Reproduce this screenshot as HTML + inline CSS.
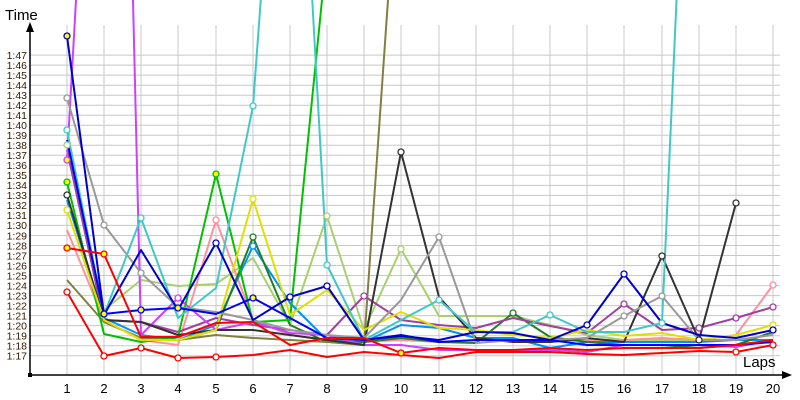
<!DOCTYPE html>
<html><head><meta charset="utf-8"><style>
html,body{margin:0;padding:0;background:#fff;width:800px;height:400px;overflow:hidden}
svg{display:block}
.yl{font:10.5px "Liberation Sans",sans-serif;fill:#301800;text-anchor:end}
.xl{font:13px "Liberation Sans",sans-serif;fill:#000;text-anchor:middle}
polyline{fill:none;stroke-width:2;stroke-linejoin:round}
</style></head><body>
<svg width="800" height="400" viewBox="0 0 800 400">
<g stroke="#c8c8c8" stroke-width="1">
<path d="M30 355.7H780M30 345.7H780M30 335.7H780M30 325.6H780M30 315.6H780M30 305.6H780M30 295.6H780M30 285.6H780M30 275.5H780M30 265.5H780M30 255.5H780M30 245.5H780M30 235.5H780M30 225.4H780M30 215.4H780M30 205.4H780M30 195.4H780M30 185.4H780M30 175.3H780M30 165.3H780M30 155.3H780M30 145.3H780M30 135.3H780M30 125.2H780M30 115.2H780M30 105.2H780M30 95.2H780M30 85.2H780M30 75.1H780M30 65.1H780M30 55.1H780"/>
<path d="M67 25V375M104 25V375M141 25V375M178 25V375M216 25V375M253 25V375M290 25V375M327 25V375M364 25V375M401 25V375M439 25V375M476 25V375M513 25V375M550 25V375M587 25V375M624 25V375M662 25V375M699 25V375M736 25V375M773 25V375"/>
</g>
<g class="yl">
<text x="27" y="359.5">1:17</text><text x="27" y="349.5">1:18</text><text x="27" y="339.5">1:19</text><text x="27" y="329.4">1:20</text><text x="27" y="319.4">1:21</text><text x="27" y="309.4">1:22</text><text x="27" y="299.4">1:23</text><text x="27" y="289.4">1:24</text><text x="27" y="279.3">1:25</text><text x="27" y="269.3">1:26</text><text x="27" y="259.3">1:27</text><text x="27" y="249.3">1:28</text><text x="27" y="239.3">1:29</text><text x="27" y="229.2">1:30</text><text x="27" y="219.2">1:31</text><text x="27" y="209.2">1:32</text><text x="27" y="199.2">1:33</text><text x="27" y="189.2">1:34</text><text x="27" y="179.1">1:35</text><text x="27" y="169.1">1:36</text><text x="27" y="159.1">1:37</text><text x="27" y="149.1">1:38</text><text x="27" y="139.1">1:39</text><text x="27" y="129.0">1:40</text><text x="27" y="119.0">1:41</text><text x="27" y="109.0">1:42</text><text x="27" y="99.0">1:43</text><text x="27" y="89.0">1:44</text><text x="27" y="78.9">1:45</text><text x="27" y="68.9">1:46</text><text x="27" y="58.9">1:47</text>
</g>
<g class="xl">
<text x="67" y="393">1</text><text x="104" y="393">2</text><text x="141" y="393">3</text><text x="178" y="393">4</text><text x="216" y="393">5</text><text x="253" y="393">6</text><text x="290" y="393">7</text><text x="327" y="393">8</text><text x="364" y="393">9</text><text x="401" y="393">10</text><text x="439" y="393">11</text><text x="476" y="393">12</text><text x="513" y="393">13</text><text x="550" y="393">14</text><text x="587" y="393">15</text><text x="624" y="393">16</text><text x="662" y="393">17</text><text x="699" y="393">18</text><text x="736" y="393">19</text><text x="773" y="393">20</text>
</g>
<text x="5" y="20" style="font:15px 'Liberation Sans',sans-serif;fill:#000">Time</text>
<text x="743" y="367" style="font:15px 'Liberation Sans',sans-serif;fill:#000">Laps</text>

<g>
<polyline stroke="#a8d070" points="67,145 104,310 141,280 178,286 216,284 253,258 290,325 327,216 364,330 401,249 439,316 476,316 513,316 550,325 587,335 624,340 662,340 699,340 736,340 773,340"/>
<polyline stroke="#ff90a0" points="67,230 104,320 141,340 178,345 216,220 253,320 290,335 327,340 364,342 401,340 439,342 476,340 513,340 550,342 587,340 624,340 662,338 699,340 736,335 773,285"/>
<polyline stroke="#0090ff" points="67,200 104,318 141,335 178,340 216,325 253,246 290,303 327,340 364,342 401,325 439,328 476,338 513,338 550,348 587,342 624,342 662,342 699,342 736,340 773,340"/>
<polyline stroke="#208020" points="67,145 104,322 141,338 178,340 216,330 253,237 290,325 327,342 364,342 401,338 439,342 476,343 513,313 550,337 587,342 624,345 662,345 699,348 736,345 773,332"/>
<polyline stroke="#a040a0" points="67,150 104,320 141,322 178,332 216,318 253,325 290,330 327,335 364,296 401,320 439,325 476,328 513,318 550,326 587,333 624,304 662,330 699,328 736,318 773,307"/>
<polyline stroke="#cc40ff" points="67,160 76,0"/>
<polyline stroke="#cc40ff" points="133,0 141,335 178,298 216,330 253,322 290,333 327,335 364,345 401,345 439,350 476,350 513,350 550,350 587,352 624,345 662,345 699,345 736,347 773,340"/>
<polyline stroke="#808040" points="67,280 104,322 141,338 178,340 216,335 253,338 290,340 327,342 364,345 401,-187"/>
<polyline stroke="#00c000" points="67,182 104,334 141,342 178,337 216,174 253,322 290,320 327,-50"/>
<polyline stroke="#333333" points="67,195 104,320 141,322 178,335 216,330 253,330 290,335 327,340 364,345 401,152 439,297 476,338 513,342 550,342 587,338 624,342 662,256 699,340 736,203"/>
<polyline stroke="#e0e000" points="67,210 104,320 141,340 178,340 216,330 253,199 290,315 327,290 364,330 401,312 439,328 476,330 513,335 550,338 587,330 624,336 662,333 699,340 736,335 773,325"/>
<polyline stroke="#999999" points="67,98 104,225 141,273 178,307 216,312 253,320 290,330 327,335 364,338 401,300 439,237 476,343 513,340 550,340 587,338 624,316 662,296 699,340 736,340 773,335"/>
<polyline stroke="#40c8c8" points="67,130 104,315 141,218 178,318 216,288 253,106 290,-400 327,265 364,340 401,320 439,300 476,332 513,332 550,315 587,332 624,332 662,323 699,-500"/>
<polyline stroke="#0000ff" points="67,140 104,314 141,310 178,308 216,314 253,298 290,318 327,338 364,340 401,335 439,342 476,340 513,340 550,340 587,345 624,345 662,345 699,345 736,345 773,342"/>
<polyline stroke="#0000cc" points="67,36 104,315 141,250 178,310 216,243 253,320 290,297 327,286 364,340 401,336 439,340 476,332 513,333 550,340 587,325 624,274 662,323 699,335 736,338 773,330"/>
<polyline stroke="#ff0000" points="67,248 104,254 141,337 178,337 216,323 253,322 290,345 327,338 364,338 401,353 439,348 476,350 513,350 550,348 587,350 624,348 662,348 699,348 736,345 773,340"/>
<polyline stroke="#ff0000" points="67,292 104,356 141,348 178,358 216,357 253,355 290,350 327,357 364,352 401,355 439,358 476,352 513,352 550,352 587,354 624,355 662,353 699,351 736,352 773,345"/>
</g>
<g stroke-width="1.3">
<circle cx="67" cy="36" r="3" fill="#ff0" stroke="#0000cc"/>
<circle cx="67" cy="98" r="3" fill="#fff" stroke="#999"/>
<circle cx="67" cy="130" r="3" fill="#fff" stroke="#40c8c8"/>
<circle cx="67" cy="145" r="3" fill="#fff" stroke="#a8d070"/>
<circle cx="67" cy="160" r="3" fill="#ff0" stroke="#cc40ff"/>
<circle cx="67" cy="182" r="3" fill="#ff0" stroke="#00c000"/>
<circle cx="67" cy="195" r="3" fill="#fff" stroke="#333"/>
<circle cx="67" cy="210" r="3" fill="#fff" stroke="#e0e000"/>
<circle cx="67" cy="248" r="3" fill="#ff0" stroke="#f00"/>
<circle cx="67" cy="292" r="3" fill="#fff" stroke="#f00"/>
<circle cx="104" cy="225" r="3" fill="#fff" stroke="#999"/>
<circle cx="104" cy="254" r="3" fill="#ff0" stroke="#f00"/>
<circle cx="104" cy="356" r="3" fill="#fff" stroke="#f00"/>
<circle cx="104" cy="314" r="3" fill="#ff0" stroke="#00f"/>
<circle cx="141" cy="218" r="3" fill="#fff" stroke="#40c8c8"/>
<circle cx="141" cy="273" r="3" fill="#fff" stroke="#999"/>
<circle cx="141" cy="310" r="3" fill="#ff0" stroke="#00f"/>
<circle cx="141" cy="348" r="3" fill="#fff" stroke="#f00"/>
<circle cx="178" cy="308" r="3" fill="#ff0" stroke="#00f"/>
<circle cx="178" cy="298" r="3" fill="#fff" stroke="#cc40ff"/>
<circle cx="178" cy="358" r="3" fill="#fff" stroke="#f00"/>
<circle cx="216" cy="174" r="3" fill="#ff0" stroke="#00c000"/>
<circle cx="216" cy="220" r="3" fill="#fff" stroke="#ff90a0"/>
<circle cx="216" cy="243" r="3" fill="#fff" stroke="#0000cc"/>
<circle cx="216" cy="357" r="3" fill="#fff" stroke="#f00"/>
<circle cx="253" cy="106" r="3" fill="#fff" stroke="#40c8c8"/>
<circle cx="253" cy="199" r="3" fill="#fff" stroke="#e0e000"/>
<circle cx="253" cy="237" r="3" fill="#fff" stroke="#208020"/>
<circle cx="253" cy="246" r="3" fill="#fff" stroke="#0090ff"/>
<circle cx="253" cy="298" r="3" fill="#ff0" stroke="#00f"/>
<circle cx="290" cy="297" r="3" fill="#fff" stroke="#0000cc"/>
<circle cx="327" cy="216" r="3" fill="#fff" stroke="#a8d070"/>
<circle cx="327" cy="265" r="3" fill="#fff" stroke="#40c8c8"/>
<circle cx="327" cy="286" r="3" fill="#fff" stroke="#0000cc"/>
<circle cx="364" cy="296" r="3" fill="#fff" stroke="#a040a0"/>
<circle cx="401" cy="152" r="3" fill="#fff" stroke="#333"/>
<circle cx="401" cy="249" r="3" fill="#fff" stroke="#a8d070"/>
<circle cx="401" cy="353" r="3" fill="#ff0" stroke="#f00"/>
<circle cx="439" cy="237" r="3" fill="#fff" stroke="#999"/>
<circle cx="439" cy="300" r="3" fill="#fff" stroke="#40c8c8"/>
<circle cx="513" cy="313" r="3" fill="#fff" stroke="#208020"/>
<circle cx="550" cy="315" r="3" fill="#fff" stroke="#40c8c8"/>
<circle cx="587" cy="325" r="3" fill="#fff" stroke="#0000cc"/>
<circle cx="624" cy="274" r="3" fill="#fff" stroke="#0000cc"/>
<circle cx="624" cy="304" r="3" fill="#fff" stroke="#a040a0"/>
<circle cx="624" cy="316" r="3" fill="#fff" stroke="#999"/>
<circle cx="662" cy="256" r="3" fill="#fff" stroke="#333"/>
<circle cx="662" cy="296" r="3" fill="#fff" stroke="#999"/>
<circle cx="662" cy="323" r="3" fill="#fff" stroke="#40c8c8"/>
<circle cx="699" cy="328" r="3" fill="#fff" stroke="#a040a0"/>
<circle cx="699" cy="340" r="3" fill="#fff" stroke="#333"/>
<circle cx="736" cy="203" r="3" fill="#fff" stroke="#333"/>
<circle cx="736" cy="318" r="3" fill="#fff" stroke="#a040a0"/>
<circle cx="736" cy="352" r="3" fill="#fff" stroke="#f00"/>
<circle cx="773" cy="307" r="3" fill="#fff" stroke="#a040a0"/>
<circle cx="773" cy="285" r="3" fill="#fff" stroke="#ff90a0"/>
<circle cx="773" cy="325" r="3" fill="#fff" stroke="#e0e000"/>
<circle cx="773" cy="330" r="3" fill="#fff" stroke="#0000cc"/>
<circle cx="773" cy="345" r="3" fill="#fff" stroke="#f00"/>
</g>
<g stroke="#000" stroke-width="1.5">
<line x1="30" y1="375" x2="785" y2="375"/>
<line x1="30" y1="375" x2="30" y2="30"/>
</g>
<polygon points="30,22 26,32 34,32" fill="#000"/>
<polygon points="792,375 782,371 782,379" fill="#000"/>
<rect x="28" y="373" width="4" height="4" fill="#000"/>
</svg>
</body></html>
